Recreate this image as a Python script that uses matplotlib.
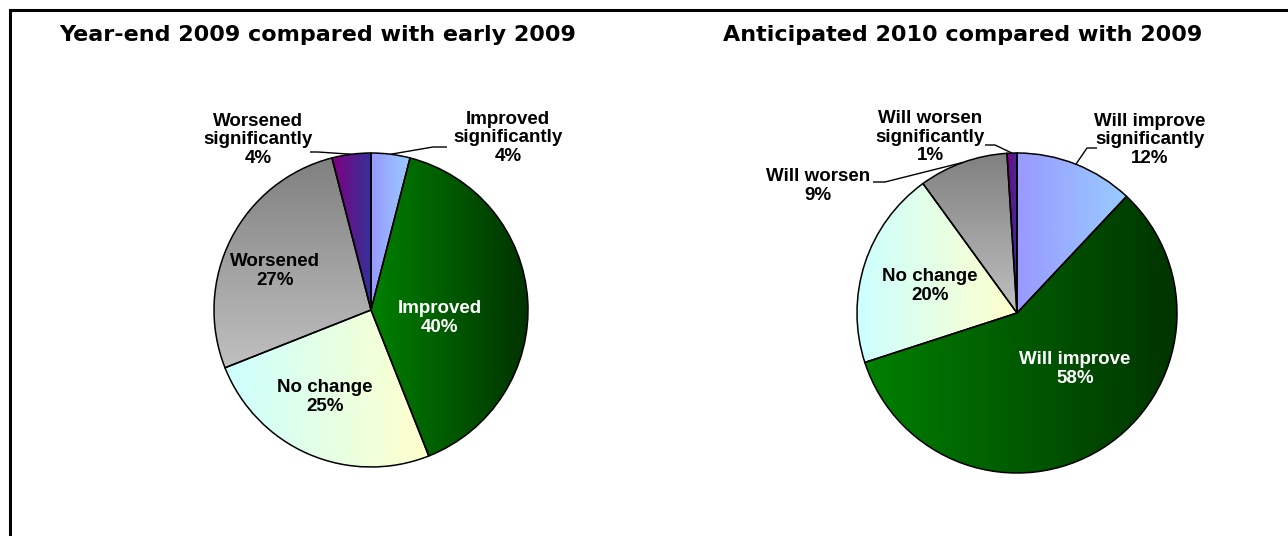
import numpy as np
import matplotlib
matplotlib.use("Agg")
import matplotlib.pyplot as plt
from matplotlib.colors import LinearSegmentedColormap

# ---------------- data ----------------
title1 = "Year-end 2009 compared with early 2009"
labels1 = ["Improved\nsignificantly", "Improved", "No change", "Worsened", "Worsened\nsignificantly"]
values1 = [4, 40, 25, 27, 4]

title2 = "Anticipated 2010 compared with 2009"
labels2 = ["Will improve\nsignificantly", "Will improve", "No change", "Will worsen", "Will worsen\nsignificantly"]
values2 = [12, 58, 20, 9, 1]

# gradient styles per category position: (start colour, end colour, vertical?)
styles = [
    ("#9999FF", "#99CCFF", False),
    ("#008000", "#003300", False),
    ("#CCFFFF", "#FFFFCC", False),
    ("#808080", "#C0C0C0", True),
    ("#800080", "#333399", False),
]
text_colors = ["black", "white", "black", "black", "black"]

W, H = 1288, 536
fig = plt.figure(figsize=(W / 100, H / 100), dpi=100)
ax = fig.add_axes([0, 0, 1, 1])
ax.set_xlim(0, W)
ax.set_ylim(0, H)
ax.set_aspect("equal")
ax.axis("off")

LABEL_FONT = dict(family=["Liberation Sans", "DejaVu Sans"], fontweight="bold", fontsize=13.5)
TITLE_FONT = dict(family=["DejaVu Sans"], fontweight="bold", fontsize=16)


def py(y):
    return H - y


def gradient_pie(values, center, radius):
    wedges, _ = ax.pie(values, center=center, radius=radius, startangle=90,
                       counterclock=False,
                       wedgeprops=dict(edgecolor="black", linewidth=1.1, facecolor="none"),
                       frame=True)
    for w, (c0, c1, vert) in zip(wedges, styles):
        w.set_zorder(3)
        ext = w.get_path().get_extents()
        cmap = LinearSegmentedColormap.from_list("g", [c0, c1])
        t = np.linspace(0, 1, 256)
        arr = t[:, None] if vert else t[None, :]
        im = ax.imshow(arr, cmap=cmap, extent=(ext.x0, ext.x1, ext.y0, ext.y1),
                       origin="upper", aspect="auto", zorder=2, interpolation="bilinear")
        im.set_clip_path(w)
    return wedges


def mid_point(values, i, center, radius):
    total = sum(values)
    cum = sum(values[:i]) + values[i] / 2
    ang = np.deg2rad(90 - 360 * cum / total)
    return center[0] + radius * np.cos(ang), center[1] + radius * np.sin(ang)


def pct(v):
    return f"{v}%"


# ---------------- pie 1 ----------------
c1 = (371, py(310))
r1 = 157
gradient_pie(values1, c1, r1)

pos1 = [(508, 138), (440, 318), (325, 397), (275, 271), (258, 140)]
for i, (lab, v) in enumerate(zip(labels1, values1)):
    x, y = pos1[i]
    ax.text(x, py(y), f"{lab}\n{pct(v)}", ha="center", va="center",
            color=text_colors[i], linespacing=1.1, zorder=5, **LABEL_FONT)

leaders1 = [(0, (433, 147), (447, 147)), (4, (318, 152), (310, 152))]
for i, el, tail in leaders1:
    ax_, ay_ = mid_point(values1, i, c1, r1)
    ax.plot([ax_, el[0], tail[0]], [ay_, py(el[1]), py(tail[1])], color="black",
            lw=1.0, zorder=4, solid_capstyle="butt")

# ---------------- pie 2 ----------------
c2 = (1017, py(313))
r2 = 160
gradient_pie(values2, c2, r2)

pos2 = [(1150, 140), (1075, 369), (930, 286), (818, 186), (930, 137)]
for i, (lab, v) in enumerate(zip(labels2, values2)):
    x, y = pos2[i]
    ax.text(x, py(y), f"{lab}\n{pct(v)}", ha="center", va="center",
            color=text_colors[i], linespacing=1.1, zorder=5, **LABEL_FONT)

leaders2 = [(0, (1087, 148), (1097, 148)), (4, (995, 145), (985, 145)),
            (3, (885, 182), (873, 182))]
for i, el, tail in leaders2:
    ax_, ay_ = mid_point(values2, i, c2, r2)
    ax.plot([ax_, el[0], tail[0]], [ay_, py(el[1]), py(tail[1])], color="black",
            lw=1.0, zorder=4, solid_capstyle="butt")

# ---------------- titles ----------------
ax.text(59, py(41), title1, ha="left", va="baseline", color="black", **TITLE_FONT)
ax.text(723, py(41), title2, ha="left", va="baseline", color="black", **TITLE_FONT)

# ---------------- frame (left + top) ----------------
ax.plot([10.5, 10.5], [0, py(9.7)], color="black", lw=2.2, solid_capstyle="projecting", zorder=6)
ax.plot([10.5, W], [py(9.7), py(9.7)], color="black", lw=2.2, solid_capstyle="butt", zorder=6)

ax.set_xlim(0, W)
ax.set_ylim(0, H)
fig.savefig("out.png", dpi=100, facecolor="white")
